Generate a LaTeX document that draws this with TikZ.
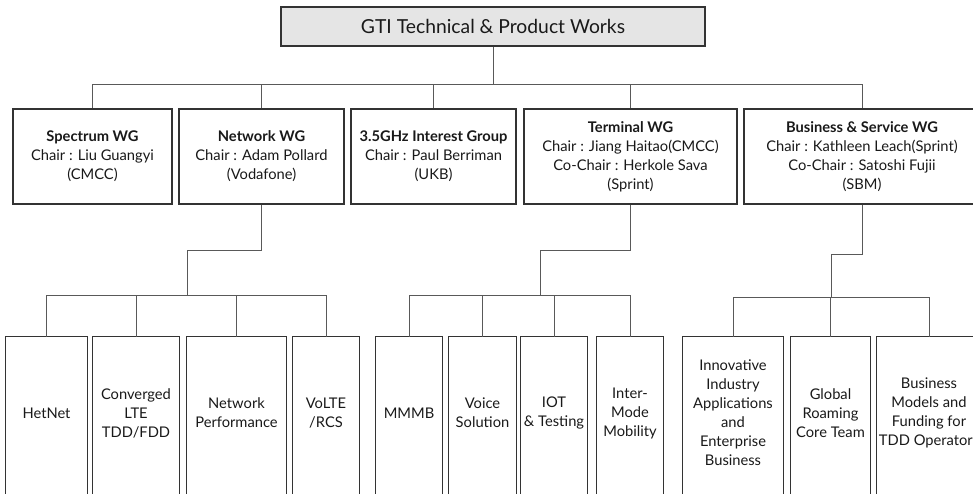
\documentclass[tikz,border=0pt]{standalone}
\usepackage{fontspec}
\setmainfont{Lato}
\usetikzlibrary{positioning}

\begin{document}
\begin{tikzpicture}[x=1pt,y=-1pt,
    topbox/.style={draw=black!80, fill=black!10, line width=1.2pt, minimum width=424pt, minimum height=39pt, inner sep=0pt, text=black!90, font=\fontsize{19.3}{24}\selectfont},
    wgbox/.style={draw=black!80, line width=1.2pt, minimum height=95pt, inner sep=0pt, align=center, text=black!90, font=\fontsize{14.7}{19}\selectfont},
    leafbox/.style={minimum height=152pt, inner sep=0pt, align=center, text=black!90, font=\fontsize{14.7}{19}\selectfont},
    boxline/.style={draw=black!80, line width=1.2pt},
    link/.style={draw=black!65, line width=0.9pt}]
        \useasboundingbox (0,0) rectangle (973,493);
        \clip (0,0) rectangle (973,493);

        % Top box
        \node[topbox] (gti) at (493,26.5) {GTI Technical \& Product Works};

        % Working groups
        \node[wgbox, minimum width=159pt] (spectrum) at (92.5,156.5) {\textbf{Spectrum WG}\\Chair : Liu Guangyi\\(CMCC)};
        \node[wgbox, minimum width=165pt] (network) at (261.5,156.5) {\textbf{Network WG}\\Chair : Adam Pollard\\(Vodafone)};
        \node[wgbox, minimum width=165pt] (ghz) at (433.5,156.5) {\textbf{3.5GHz Interest Group}\\Chair : Paul Berriman\\(UKB)};
        \node[wgbox, minimum width=213pt] (terminal) at (630.5,156.5) {\textbf{Terminal WG}\\Chair : Jiang Haitao(CMCC)\\Co-Chair : Herkole Sava\\(Sprint)};
        \node[wgbox, minimum width=236pt] (business) at (862,156.5) {\textbf{Business \& Service WG}\\Chair : Kathleen Leach(Sprint)\\Co-Chair : Satoshi Fujii\\(SBM)};

        % Network WG teams
        \node[leafbox, minimum width=81pt] (hetnet) at (46.5,413) {HetNet};
        \node[leafbox, minimum width=86pt] (converged) at (136,413) {Converged\\LTE\\TDD/FDD};
        \node[leafbox, minimum width=99pt] (netperf) at (236.5,413) {Network\\Performance};
        \node[leafbox, minimum width=66pt] (volte) at (326,413) {VoLTE\\/RCS};

        % Terminal WG teams
        \node[leafbox, minimum width=66pt] (mmmb) at (409,413) {MMMB};
        \node[leafbox, minimum width=67pt] (voice) at (482.5,413) {Voice\\Solution};
        \node[leafbox, minimum width=66pt] (iot) at (554,413) {IOT\\\& Testing};
        \node[leafbox, minimum width=66pt] (intermode) at (630,413) {Inter-\\Mode\\Mobility};

        % Business & Service WG teams
        \node[leafbox, minimum width=100pt] (innov) at (733,413) {Innovative\\Industry\\Applications\\and\\Enterprise\\Business};
        \node[leafbox, minimum width=79pt] (roaming) at (830.5,413) {Global\\Roaming\\Core Team};
        \node[leafbox, minimum width=104pt] (bizmodels) at (929,413) {Business\\Models and\\Funding for\\TDD Operators};

        % Open boxes running off the page
        \foreach \n in {hetnet,converged,netperf,volte,mmmb,voice,iot,intermode,innov,roaming,bizmodels}
            \draw[boxline] (\n.south west) ++(0,20) |- (\n.north east) -- ++(0,172);

        % Top level links
        \coordinate (hub) at (493,84);
        \draw[link] (gti.south) -- (hub);
        \foreach \n in {spectrum,network,ghz,terminal,business}
            \draw[link] (hub) -| (\n.north);

        % Network WG links
        \coordinate (netbend) at (187,250);
        \coordinate (nethub) at (187,295);
        \draw[link] (network.south) |- (netbend) -- (nethub);
        \foreach \n in {hetnet,converged,netperf,volte}
            \draw[link] (nethub) -| (\n.north);

        % Terminal WG links
        \coordinate (termbend) at (540,250);
        \coordinate (termhub) at (540,295);
        \draw[link] (terminal.south) |- (termbend) -- (termhub);
        \foreach \n in {mmmb,voice,iot,intermode}
            \draw[link] (termhub) -| (\n.north);

        % Business WG links
        \coordinate (bizbend) at (831,254);
        \coordinate (bizhub) at (831,297);
        \draw[link] (business.south) |- (bizbend) -- (bizhub);
        \foreach \n in {innov,roaming,bizmodels}
            \draw[link] (bizhub) -| (\n.north);
\end{tikzpicture}
\end{document}
